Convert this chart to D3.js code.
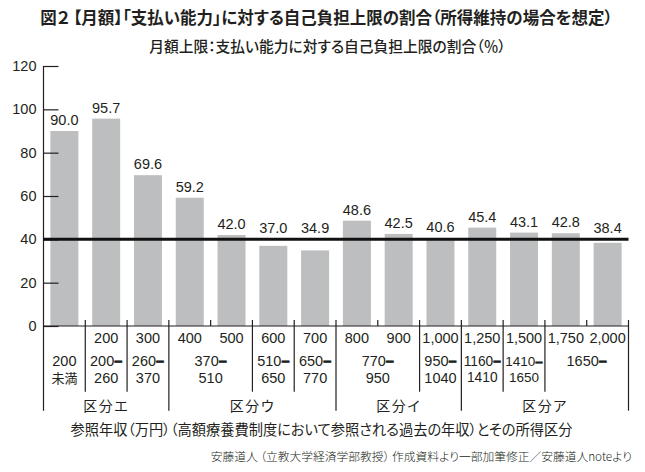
<!DOCTYPE html>
<html>
<head>
<meta charset="utf-8">
<script src="https://cdn.jsdelivr.net/npm/d3@7"></script>
<style>
  body { margin: 0; background: #fff; }
  svg { display: block; }
  .num { font-family: "Liberation Sans", Arial, sans-serif; fill: #231f20; }
  .jp { font-family: "Noto Sans CJK JP", sans-serif; fill: #231f20; font-feature-settings: "palt"; }
</style>
</head>
<body>
<svg id="chart" width="645" height="472"></svg>
<script>
const values = [90.0, 95.7, 69.6, 59.2, 42.0, 37.0, 34.9, 48.6, 42.5, 40.6, 45.4, 43.1, 42.8, 38.4];
const incomeLabels = ["", "200", "300", "400", "500", "600", "700", "800", "900", "1,000", "1,250", "1,500", "1,750", "2,000"];

// income ranges (merged cells)
const rangeFirst = [0, 1, 2, 3, 5, 6, 7, 9, 10, 11, 12];
const rangeLast = [0, 1, 2, 4, 5, 6, 8, 9, 10, 11, 13];
const rangeTop = ["200", "200–", "260–", "370–", "510–", "650–", "770–", "950–", "1160–", "1410–", "1650–"];
const rangeBottom = ["未満", "260", "370", "510", "650", "770", "950", "1040", "1410", "1650", ""];

const groupNames = ["区分エ", "区分ウ", "区分イ", "区分ア"];
const groupFirst = [0, 3, 7, 10];
const groupLast = [2, 6, 9, 13];

const yTicks = [0, 20, 40, 60, 80, 100, 120];
const refLine = 40;

const svg = d3.select("#chart");

const plotLeft = 43.5, plotRight = 628.5, plotTop = 66, plotBottom = 326;
const rowShortEnd = 391.7, rowLongEnd = 410.7;

const x = d3.scaleBand()
    .domain(d3.range(values.length))
    .range([plotLeft, plotRight])
    .paddingInner(0.33)
    .paddingOuter(0.165);

const y = d3.scaleLinear()
    .domain([0, 120])
    .range([plotBottom, plotTop]);

const gap = (x.step() - x.bandwidth()) / 2;
const cellLeft = i => x(i) - gap;
const cellRight = i => x(i) + x.bandwidth() + gap;
const cellMid = i => x(i) + x.bandwidth() / 2;

// shrink a text until it fits the given width
function fitWidth(sel, width) {
    sel.each(function () {
        let size = parseFloat(this.getAttribute("font-size"));
        while (this.getComputedTextLength() > width && size > 8) {
            size -= 0.25;
            this.setAttribute("font-size", size + "px");
        }
    });
}

// title
svg.append("text")
    .attr("class", "jp")
    .attr("x", 326.5).attr("y", 16.5)
    .attr("text-anchor", "middle")
    .attr("dominant-baseline", "central")
    .attr("font-size", "18px")
    .attr("font-weight", "bold")
    .text("図２ 【月額】「支払い能力」に対する自己負担上限の割合（所得維持の場合を想定）")
    .call(fitWidth, 578);

svg.append("text")
    .attr("class", "jp")
    .attr("x", 327.5).attr("y", 45)
    .attr("text-anchor", "middle")
    .attr("dominant-baseline", "central")
    .attr("font-size", "15.5px")
    .attr("font-weight", 500)
    .text("月額上限：支払い能力に対する自己負担上限の割合（％）")
    .call(fitWidth, 361);

// bars
svg.append("g")
    .selectAll("rect")
    .data(values)
    .join("rect")
    .attr("x", (d, i) => x(i))
    .attr("y", d => y(d))
    .attr("width", x.bandwidth())
    .attr("height", d => y(0) - y(d))
    .attr("fill", "#bcbec0");

// y axis
const yAxis = d3.axisLeft(y)
    .tickValues(yTicks)
    .tickSize(-15)
    .tickSizeOuter(0)
    .tickPadding(7);

const yg = svg.append("g")
    .attr("transform", `translate(${plotLeft},0)`)
    .call(yAxis);
yg.select(".domain").remove();
yg.attr("font-family", null).attr("font-size", null);
yg.selectAll(".tick line").attr("stroke", "#231f20").attr("stroke-width", 1.2);
yg.selectAll(".tick text")
    .attr("class", "num")
    .attr("font-size", "14.5px");

svg.append("line")
    .attr("x1", plotLeft).attr("x2", plotLeft)
    .attr("y1", y(120)).attr("y2", rowLongEnd)
    .attr("stroke", "#231f20").attr("stroke-width", 1.2);

// baseline
svg.append("line")
    .attr("x1", plotLeft).attr("x2", plotRight)
    .attr("y1", y(0)).attr("y2", y(0))
    .attr("stroke", "#231f20").attr("stroke-width", 1.2);

// reference line at 40
svg.append("line")
    .attr("x1", plotLeft).attr("x2", plotRight)
    .attr("y1", y(refLine)).attr("y2", y(refLine))
    .attr("stroke", "#111").attr("stroke-width", 3);

// value labels
svg.append("g")
    .selectAll("text")
    .data(values)
    .join("text")
    .attr("class", "num")
    .attr("x", (d, i) => cellMid(i))
    .attr("y", d => y(Math.max(d, refLine)) - 6)
    .attr("text-anchor", "middle")
    .attr("font-size", "14.5px")
    .text(d => d.toFixed(1));

// table below the axis: vertical separators
const boundaries = d3.range(1, values.length + 1);
boundaries.forEach(b => {
    const bx = b < values.length ? cellLeft(b) : cellRight(b - 1);
    const isGroup = b === values.length || groupFirst.includes(b);
    const isRange = rangeFirst.includes(b);
    svg.append("line")
        .attr("x1", bx).attr("x2", bx)
        .attr("y1", y(0) - 6)
        .attr("y2", isGroup ? rowLongEnd : isRange ? rowShortEnd : y(0))
        .attr("stroke", "#231f20").attr("stroke-width", 1.2);
});

// row 1: income labels
svg.append("g")
    .selectAll("text")
    .data(incomeLabels)
    .join("text")
    .attr("class", "num")
    .attr("x", (d, i) => cellMid(i))
    .attr("y", 338)
    .attr("dominant-baseline", "central")
    .attr("text-anchor", "middle")
    .attr("font-size", "14.5px")
    .text(d => d)
    .call(fitWidth, x.step() - 3);

// rows 2-3: ranges
const rangeMid = k => (cellLeft(rangeFirst[k]) + cellRight(rangeLast[k])) / 2;
const rangeWidth = k => cellRight(rangeLast[k]) - cellLeft(rangeFirst[k]) - 4;

const topTexts = svg.append("g")
    .selectAll("text")
    .data(rangeTop)
    .join("text")
    .attr("x", (d, k) => rangeMid(k))
    .attr("y", 361)
    .attr("dominant-baseline", "central")
    .attr("text-anchor", "middle")
    .attr("class", "num")
    .attr("font-size", "14.5px")
    .each(function (d) {
        const t = d3.select(this);
        if (d.endsWith("–")) {
            t.append("tspan").text(d.slice(0, -1));
            t.append("tspan").attr("font-weight", "bold")
                .attr("stroke", "#231f20").attr("stroke-width", 0.7)
                .text("–");
        } else {
            t.text(d);
        }
    });
topTexts.each(function (d, k) { d3.select(this).call(fitWidth, rangeWidth(k)); });

svg.append("g")
    .selectAll("text")
    .data(rangeBottom)
    .join("text")
    .attr("x", (d, k) => rangeMid(k))
    .attr("y", 377.5)
    .attr("dominant-baseline", "central")
    .attr("text-anchor", "middle")
    .attr("class", d => /^[0-9]/.test(d) ? "num" : "jp")
    .attr("font-size", (d, k) => topTexts.nodes()[k].getAttribute("font-size"))
    .text(d => d)
    .filter(d => !/^[0-9]/.test(d))
    .attr("font-size", "13px");

// group labels
svg.append("g")
    .selectAll("text")
    .data(groupNames)
    .join("text")
    .attr("class", "jp")
    .attr("x", (d, k) => (cellLeft(groupFirst[k]) + cellRight(groupLast[k])) / 2)
    .attr("y", 405)
    .attr("dominant-baseline", "central")
    .attr("text-anchor", "middle")
    .attr("font-size", "14px")
    .attr("letter-spacing", "1.5px")
    .text(d => d);

// axis caption
svg.append("text")
    .attr("class", "jp")
    .attr("x", 321.5).attr("y", 428)
    .attr("text-anchor", "middle")
    .attr("dominant-baseline", "central")
    .attr("font-size", "15.5px")
    .text("参照年収（万円）（高額療養費制度において参照される過去の年収）とその所得区分")
    .call(fitWidth, 507);

// source
svg.append("text")
    .attr("class", "jp")
    .attr("x", 632).attr("y", 455)
    .attr("text-anchor", "end")
    .attr("dominant-baseline", "central")
    .attr("font-size", "12.5px")
    .attr("font-weight", 300)
    .text("安藤道人 （立教大学経済学部教授） 作成資料より一部加筆修正／安藤道人noteより")
    .call(fitWidth, 430);
</script>
</body>
</html>
